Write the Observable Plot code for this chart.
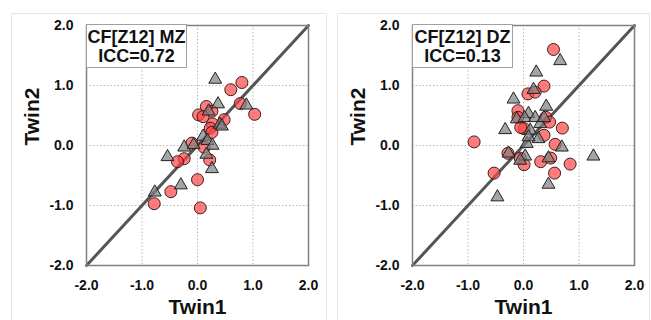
<!DOCTYPE html>
<html>
<head>
<meta charset="utf-8">
<script src="https://cdn.jsdelivr.net/npm/d3@7"></script>
<script src="https://cdn.jsdelivr.net/npm/@observablehq/plot@0.6"></script>
<style>
  html, body { margin: 0; padding: 0; background: #fff; }
  #wrap { position: relative; width: 651px; height: 320px; overflow: hidden; font-family: "Liberation Sans", Arial, sans-serif; }
  .panel { position: absolute; top: 0; }
  .border { position: absolute; border: 1px solid #e4e4e4; pointer-events: none; z-index: 3; }
  .legend { position: absolute; z-index: 4; background: #fff; border: 1px solid #a0a0a0; box-sizing: border-box;
            font-weight: bold; font-size: 18px; line-height: 19px; text-align: center; color: #111; padding-top: 3px; white-space: nowrap; }
</style>
</head>
<body>
<div id="wrap"></div>
<script>
// ---- data ----
const tickValues = [-2, -1, 0, 1, 2];
const diagX = [-2, 2];
const diagY = [-2, 2];

const panelTitles = ["CF[Z12] MZ", "CF[Z12] DZ"];
const panelICC = ["ICC=0.72", "ICC=0.13"];
const xTitle = "Twin1";
const yTitle = "Twin2";

// MZ panel
const mzCircleX = [0.80, 0.60, 0.77, 1.03, 0.16, 0.26, 0.02, 0.10, 0.48, 0.27, 0.23, 0.26, -0.10, 0.12, -0.24, -0.36, 0.22, 0.00, -0.48, -0.78, 0.05];
const mzCircleY = [1.05, 0.93, 0.70, 0.52, 0.65, 0.57, 0.51, 0.48, 0.43, 0.36, 0.29, 0.22, 0.04, -0.03, -0.22, -0.27, -0.24, -0.57, -0.77, -0.97, -1.04];
const mzTriX = [0.32, 0.37, 0.20, 0.88, 0.40, 0.44, 0.10, 0.18, 0.27, -0.24, -0.07, -0.54, 0.16, 0.26, -0.30, -0.77];
const mzTriY = [1.10, 0.69, 0.57, 0.67, 0.35, 0.32, 0.15, 0.08, 0.00, -0.03, 0.01, -0.19, -0.15, -0.39, -0.66, -0.78];

// DZ panel
const dzCircleX = [0.54, 0.37, 0.08, 0.21, -0.10, -0.10, 0.40, 0.47, 0.01, -0.05, 0.70, 0.37, -0.89, 0.57, -0.28, -0.06, 0.01, 0.31, 0.49, 0.84, 0.56, -0.53];
const dzCircleY = [1.60, 0.99, 0.86, 0.89, 0.58, 0.47, 0.47, 0.39, 0.28, 0.30, 0.29, 0.17, 0.06, 0.02, -0.13, -0.21, -0.32, -0.27, -0.21, -0.31, -0.46, -0.46];
const dzTriX = [0.66, 0.23, 0.18, -0.18, 0.41, 0.09, -0.12, 0.02, 0.21, 0.30, -0.33, 0.12, 0.27, 0.06, 0.69, 1.26, -0.27, 0.03, -0.06, 0.45, 0.45, -0.47, 0.09, 0.37];
const dzTriY = [1.41, 1.22, 0.93, 0.77, 0.65, 0.53, 0.44, 0.46, 0.46, 0.36, 0.26, 0.25, 0.11, 0.03, -0.03, -0.18, -0.13, -0.18, -0.25, -0.21, -0.65, -0.86, 0.14, 0.46];

const panels = [
  {cx: mzCircleX, cy: mzCircleY, tx: mzTriX, ty: mzTriY},
  {cx: dzCircleX, cy: dzCircleY, tx: dzTriX, ty: dzTriY}
];

const zip = (xs, ys) => xs.map((x, i) => ({x, y: ys[i]}));
const fmt = d => d.toFixed(1);
const FONT = "'Liberation Sans', Arial, sans-serif";

const wrap = document.getElementById("wrap");
const panelLeft = [0, 326];
const borders = [
  {left: 11, top: 13, width: 314, height: 320},
  {left: 337, top: 13, width: 311, height: 320}
];

panels.forEach((p, i) => {
  const circles = zip(p.cx, p.cy);
  const tris = zip(p.tx, p.ty);
  const diag = zip(diagX, diagY);
  const chart = Plot.plot({
    width: 325,
    height: 320,
    marginLeft: 86,
    marginRight: 17,
    marginTop: 25,
    marginBottom: 55,
    style: {background: "transparent", fontFamily: FONT, overflow: "visible"},
    x: {domain: [-2, 2], ticks: tickValues, tickFormat: fmt, label: null},
    y: {domain: [-2, 2], ticks: tickValues, tickFormat: fmt, label: null},
    marks: [
      Plot.gridX(tickValues.slice(1, -1), {stroke: "#a8a8a8", strokeOpacity: 1, strokeWidth: 0.8, strokeDasharray: "1.5,2"}),
      Plot.gridY(tickValues.slice(1, -1), {stroke: "#a8a8a8", strokeOpacity: 1, strokeWidth: 0.8, strokeDasharray: "1.5,2"}),
      Plot.axisX(tickValues, {tickSize: 0, tickPadding: 14.5, tickFormat: fmt, fontSize: 14, fontWeight: "bold", fill: "#111", label: null}),
      Plot.axisY(tickValues, {tickSize: 0, tickPadding: 13, tickFormat: fmt, fontSize: 14, fontWeight: "bold", fill: "#111", label: null}),
      Plot.line(diag, {x: "x", y: "y", stroke: "#555", strokeWidth: 3}),
      Plot.dot(circles, {x: "x", y: "y", r: 6, fill: "#ff4444", fillOpacity: 0.7, stroke: "#3a2020", strokeWidth: 1}),
      Plot.dot(tris, {x: "x", y: "y", symbol: "triangle", r: 4.8, fill: "#7f7f7f", fillOpacity: 0.7, stroke: "#222", strokeWidth: 1}),
      Plot.frame({stroke: "#808080", strokeWidth: 1.5}),
      Plot.text([xTitle], {frameAnchor: "bottom", dy: 42, lineAnchor: "middle", text: d => d, fontSize: 21, fontWeight: "bold", fill: "#111"}),
      Plot.text([yTitle], {frameAnchor: "left", dx: -54, rotate: -90, lineAnchor: "middle", text: d => d, fontSize: 21, fontWeight: "bold", fill: "#111"})
    ]
  });
  chart.classList.add("panel");
  chart.style.position = "absolute";
  chart.style.left = panelLeft[i] + "px";
  chart.style.top = "0px";
  wrap.appendChild(chart);

  const b = document.createElement("div");
  b.className = "border";
  Object.assign(b.style, {left: borders[i].left + "px", top: borders[i].top + "px", width: borders[i].width + "px", height: borders[i].height + "px"});
  wrap.appendChild(b);

  const lg = document.createElement("div");
  lg.className = "legend";
  Object.assign(lg.style, {left: (panelLeft[i] + 86) + "px", top: "24px", width: "101px", height: "44px"});
  lg.innerHTML = panelTitles[i] + "<br>" + panelICC[i];
  wrap.appendChild(lg);
});
</script>
</body>
</html>
